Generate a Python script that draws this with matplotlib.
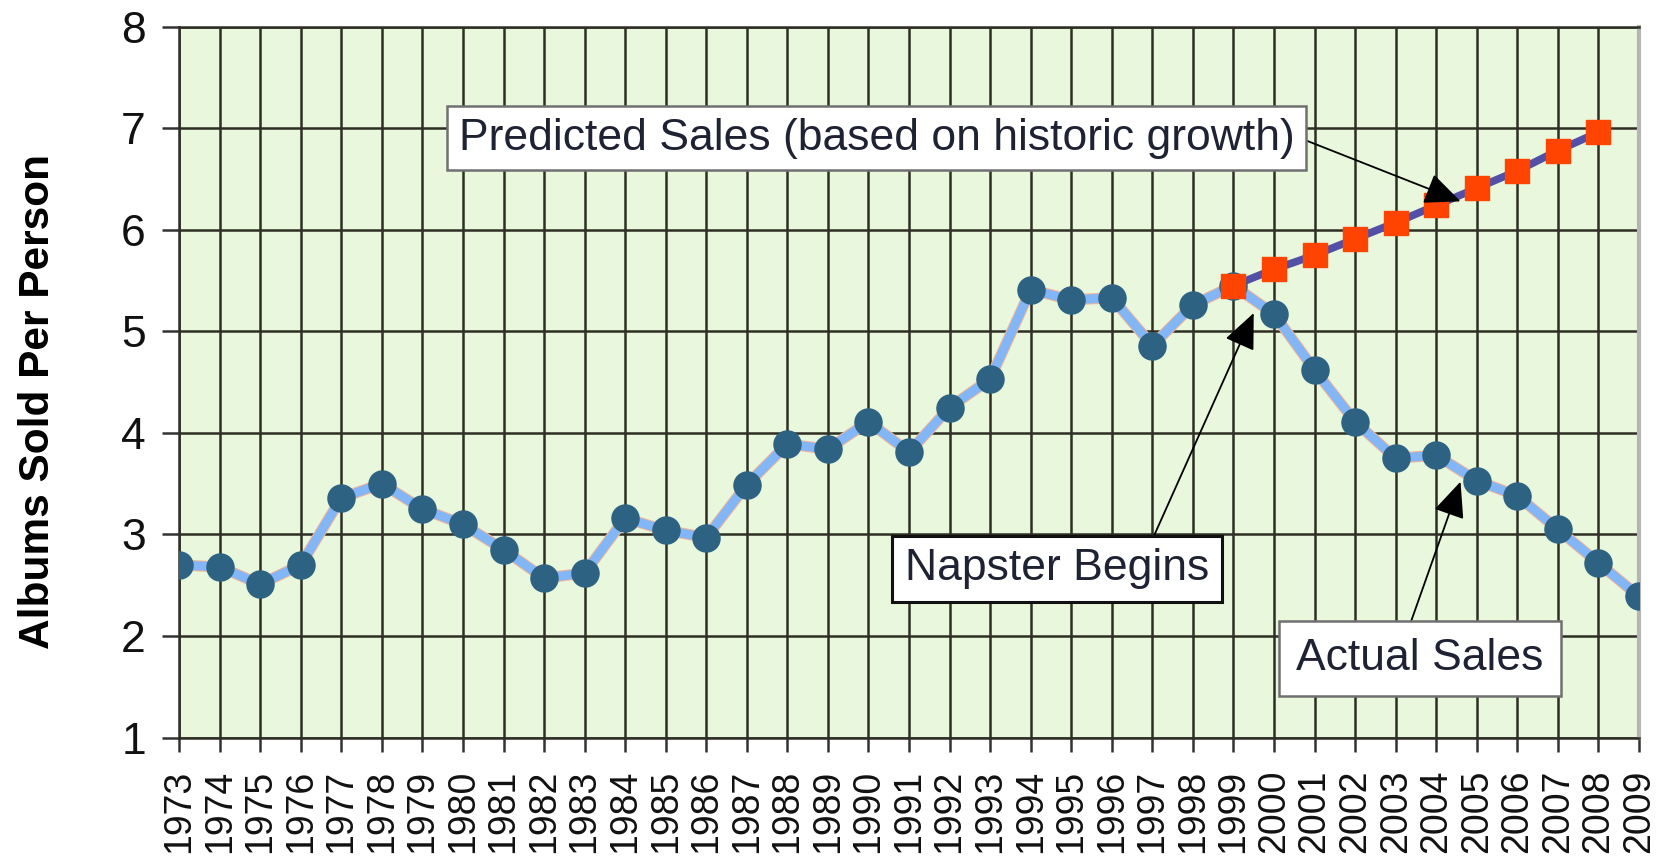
import matplotlib
matplotlib.use("Agg")
import matplotlib.pyplot as plt
import matplotlib.patheffects as pe

plt.rcParams['font.family'] = ['Liberation Sans', 'DejaVu Sans']

# actual album sales per person, 1973-2009
years = list(range(1973, 2010))
actual = [2.70, 2.68, 2.51, 2.70, 3.36, 3.50, 3.25, 3.10, 2.85, 2.57,
          2.62, 3.16, 3.04, 2.97, 3.49, 3.89, 3.84, 4.11, 3.81, 4.25,
          4.53, 5.41, 5.31, 5.33, 4.86, 5.26, 5.45, 5.17, 4.62, 4.11,
          3.75, 3.78, 3.53, 3.38, 3.05, 2.72, 2.39]

# predicted sales from historic growth, 1999-2008
pred_years = list(range(1999, 2009))
predicted = [5.45, 5.61, 5.75, 5.91, 6.07, 6.24, 6.41, 6.58, 6.78, 6.96]

y_ticks = [1, 2, 3, 4, 5, 6, 7, 8]

fig = plt.figure(figsize=(16.69, 8.65), dpi=100)
ax = fig.add_axes([0.1073, 0.1473, 0.8747, 0.8219])
ax.set_facecolor('#e9f7dc')

ax.set_xlim(1973, 2009)
ax.set_ylim(1, 8)
ax.set_xticks(years)
ax.set_xticklabels([str(y) for y in years], rotation=90, fontsize=27,
                   color='#111111')
ax.set_yticks(y_ticks)
ax.set_yticklabels([str(t) for t in y_ticks], fontsize=32, color='#111111')
ax.tick_params(axis='y', length=12, width=1.8, color='#333333', pad=12)
ax.tick_params(axis='x', length=10, width=1.8, color='#333333', pad=13)

ax.grid(True, color='#2e2e24', linewidth=1.8)
ax.set_axisbelow(True)
for side in ['left', 'bottom', 'top']:
    ax.spines[side].set_color('#2e2e24')
    ax.spines[side].set_linewidth(1.8)
ax.spines['right'].set_color('#b5b5b5')
ax.spines['right'].set_linewidth(3)

ax.set_ylabel('Albums Sold Per Person', fontsize=30.5, fontweight='bold')
ax.yaxis.set_label_coords(-0.083, 0.473)

# actual sales line
ax.plot(years, actual, color='#82b6f7', linewidth=6.5, zorder=3,
        path_effects=[pe.Stroke(linewidth=8, foreground='#f2b49a'), pe.Normal()])
# predicted line
ax.plot(pred_years, predicted, color='#5250a6', linewidth=5.5, zorder=4)
ax.plot(years, actual, linestyle='none', marker='o', markersize=19.5,
        color='#2d6282', zorder=5)
ax.plot(pred_years, predicted, linestyle='none', marker='s', markersize=17,
        color='#ff4300', zorder=6)

box_text = dict(fontsize=32, color='#1e2233', ha='center', va='center', zorder=8)

ax.text(1990.2, 6.90, 'Predicted Sales (based on historic growth)',
        bbox=dict(boxstyle='square,pad=0.26', facecolor='white',
                  edgecolor='#707070', linewidth=1.8), **box_text)
ax.text(1994.65, 2.66, 'Napster Begins',
        bbox=dict(boxstyle='square,pad=0.28', facecolor='white',
                  edgecolor='#111111', linewidth=2.2), **box_text)
ax.text(2003.6, 1.78, 'Actual Sales',
        bbox=dict(boxstyle='square,pad=0.38', facecolor='white',
                  edgecolor='#707070', linewidth=1.8), **box_text)

arrow = dict(arrowstyle='-|>,head_length=0.8,head_width=0.35', color='black',
             lw=1.3, mutation_scale=28, shrinkA=0, shrinkB=0)
ax.annotate('', xy=(2004.6, 6.28), xytext=(2000.66, 6.90), arrowprops=arrow, zorder=7)
ax.annotate('', xy=(1999.5, 5.18), xytext=(1997.0, 2.95), arrowprops=arrow, zorder=7)
ax.annotate('', xy=(2004.6, 3.52), xytext=(2003.35, 2.11), arrowprops=arrow, zorder=7)

fig.savefig('out.png', dpi=100)
